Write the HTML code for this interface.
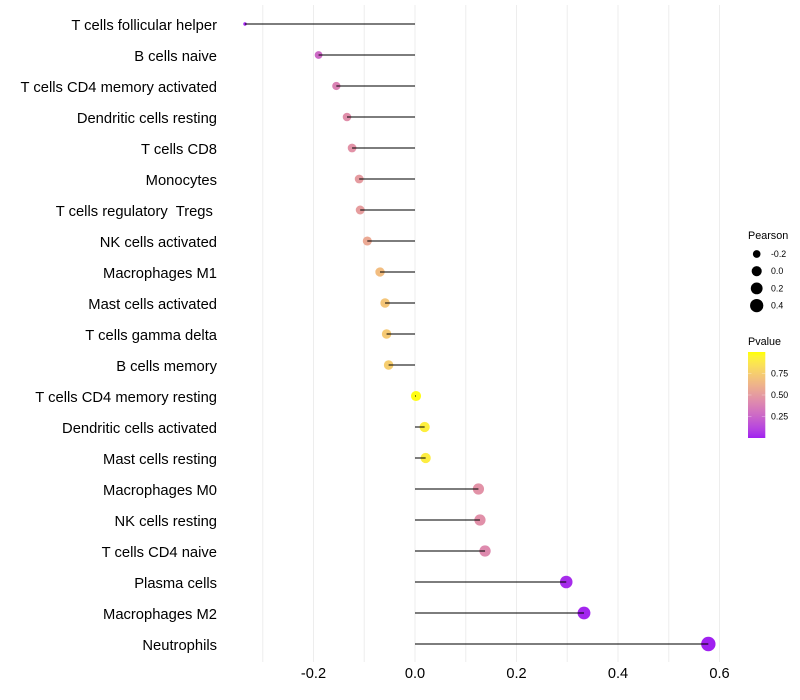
<!DOCTYPE html>
<html lang="en">
<head>
<meta charset="utf-8">
<title>Immune cell correlation lollipop chart</title>
<style>
html,body{margin:0;padding:0;background:#fff;width:800px;height:700px;overflow:hidden}
svg{display:block;font-family:"Liberation Sans",sans-serif}
</style>
</head>
<body>
<svg id="chart" xmlns="http://www.w3.org/2000/svg" width="800" height="700" viewBox="0 0 800 700">
<defs><linearGradient id="pGrad" x1="0" y1="1" x2="0" y2="0"></linearGradient></defs>
<rect width="800" height="700" fill="#fff"></rect>
<g id="grid"></g>
<g id="points"></g>
<g id="segments"></g>
<g id="ylabels"></g>
<g id="xlabels"></g>
<g id="sizeLegend"></g>
<g id="colorLegend"></g>
</svg>
<script>
const categories = ["T cells follicular helper","B cells naive","T cells CD4 memory activated","Dendritic cells resting","T cells CD8","Monocytes","T cells regulatory  Tregs ","NK cells activated","Macrophages M1","Mast cells activated","T cells gamma delta","B cells memory","T cells CD4 memory resting","Dendritic cells activated","Mast cells resting","Macrophages M0","NK cells resting","T cells CD4 naive","Plasma cells","Macrophages M2","Neutrophils"];
const pearson = [-0.335,-0.19,-0.155,-0.134,-0.124,-0.11,-0.108,-0.094,-0.069,-0.059,-0.056,-0.052,0.002,0.019,0.021,0.125,0.128,0.138,0.298,0.333,0.578];
const pvalue = [0.01,0.27,0.38,0.44,0.46,0.5,0.51,0.57,0.67,0.71,0.73,0.75,0.99,0.92,0.91,0.46,0.45,0.42,0.03,0.015,0.001];
const xTicks = [-0.2,0,0.2,0.4,0.6];
const xGrid = [-0.3,-0.2,-0.1,0,0.1,0.2,0.3,0.4,0.5,0.6];
const pearsonBreaks = [-0.2,0,0.2,0.4];
const pvalueBreaks = [0.25,0.5,0.75];

const NS = "http://www.w3.org/2000/svg";
function make(tag, attrs, parent){
  const el = document.createElementNS(NS, tag);
  for (const k in attrs) el.setAttribute(k, attrs[k]);
  parent.appendChild(el);
  return el;
}
function slug(s){ return s.trim().toLowerCase().replace(/[^a-z0-9]+/g,'-'); }

const xScale = v => 415 + 507.5 * v;
const yScale = i => 24 + 31 * i;
const minV = Math.min(...pearson), maxV = Math.max(...pearson);
const rScale = v => 1.7 + 5.5 * Math.sqrt(Math.max(0,(v - minV) / (maxV - minV)));
const pScale = p => 438 - 86 * p;

function toLab(h){
  const c = [1,3,5].map(i => parseInt(h.substr(i,2),16)/255).map(u => u>0.04045?Math.pow((u+0.055)/1.055,2.4):u/12.92);
  const X=(0.4124*c[0]+0.3576*c[1]+0.1805*c[2])/0.95047, Y=0.2126*c[0]+0.7152*c[1]+0.0722*c[2], Z=(0.0193*c[0]+0.1192*c[1]+0.9505*c[2])/1.08883;
  const f=t=>t>0.008856?Math.cbrt(t):7.787*t+16/116;
  return [116*f(Y)-16,500*(f(X)-f(Y)),200*(f(Y)-f(Z))];
}
function fromLab(l){
  const fy=(l[0]+16)/116, fx=fy+l[1]/500, fz=fy-l[2]/200;
  const g=t=>t*t*t>0.008856?t*t*t:(t-16/116)/7.787;
  const X=g(fx)*0.95047,Y=g(fy),Z=g(fz)*1.08883;
  const rgb=[3.2406*X-1.5372*Y-0.4986*Z,-0.9689*X+1.8758*Y+0.0415*Z,0.0557*X-0.204*Y+1.057*Z];
  return 'rgb('+rgb.map(u=>{u=Math.max(0,Math.min(1,u));u=u>0.0031308?1.055*Math.pow(u,1/2.4)-0.055:12.92*u;return Math.round(u*255);}).join(',')+')';
}
const labLow = toLab('#A020F0'), labHigh = toLab('#FFFF00');
const colorScale = p => fromLab(labLow.map((a,i)=>a+(labHigh[i]-a)*p));

const gridG = document.getElementById('grid');
xGrid.forEach(v => {
  const ln = make('line',{x1:xScale(v),x2:xScale(v),y1:5,y2:662,stroke:'#ededed','stroke-width':1},gridG);
  
  
});

const ptsG = document.getElementById('points');
const segG = document.getElementById('segments');
const labG = document.getElementById('ylabels');
categories.forEach((c,i) => {
  const pt = make('circle',{cx:xScale(pearson[i]),cy:yScale(i),r:rScale(pearson[i]),fill:colorScale(pvalue[i])},ptsG);
  
  
  const seg = make('line',{x1:xScale(0),x2:xScale(pearson[i]),y1:yScale(i),y2:yScale(i),stroke:'#000','stroke-width':1.5,'stroke-opacity':0.68},segG);
  
  
  const tx = make('text',{x:217,y:yScale(i)+6,'text-anchor':'end','font-size':14.75,fill:'#000'},labG);
  tx.setAttribute('xml:space','preserve');
  tx.style.whiteSpace = 'pre';
  tx.textContent = c;
  
  
});

const xG = document.getElementById('xlabels');
xTicks.forEach(v => {
  const tx = make('text',{x:xScale(v),y:678,'text-anchor':'middle','font-size':14.6,fill:'#000'},xG);
  tx.textContent = v.toFixed(1);
  
  
});

const sizeG = document.getElementById('sizeLegend');
const st = make('text',{x:748,y:239,'font-size':10.8,fill:'#000'},sizeG);
st.textContent = 'Pearson';


pearsonBreaks.forEach((v,i) => {
  const cy = 254 + 17.2 * i;
  const dot = make('circle',{cx:756.7,cy:cy,r:rScale(v),fill:'#000'},sizeG);
  
  
  const tx = make('text',{x:771,y:cy+3,'font-size':8.8,fill:'#000'},sizeG);
  tx.textContent = v.toFixed(1);
  
  
});

const grad = document.getElementById('pGrad');
for (let k = 0; k <= 20; k++){
  make('stop',{offset:(k*5)+'%','stop-color':colorScale(k/20)},grad);
}
const colG = document.getElementById('colorLegend');
const ct = make('text',{x:748,y:345,'font-size':10.8,fill:'#000'},colG);
ct.textContent = 'Pvalue';


const bar = make('rect',{x:748,y:pScale(1),width:17.3,height:86,fill:'url(#pGrad)'},colG);


pvalueBreaks.forEach(p => {
  const y = pScale(p);
  const a = make('line',{x1:748,x2:751.5,y1:y,y2:y,stroke:'#fff','stroke-opacity':0.5,'stroke-width':0.6},colG);
  
  
  const b = make('line',{x1:761.8,x2:765.3,y1:y,y2:y,stroke:'#fff','stroke-opacity':0.5,'stroke-width':0.6},colG);
  
  
  const tx = make('text',{x:771,y:y+3,'font-size':8.8,fill:'#000'},colG);
  tx.textContent = p.toFixed(2);
  
  
});
</script>
</body>
</html>
